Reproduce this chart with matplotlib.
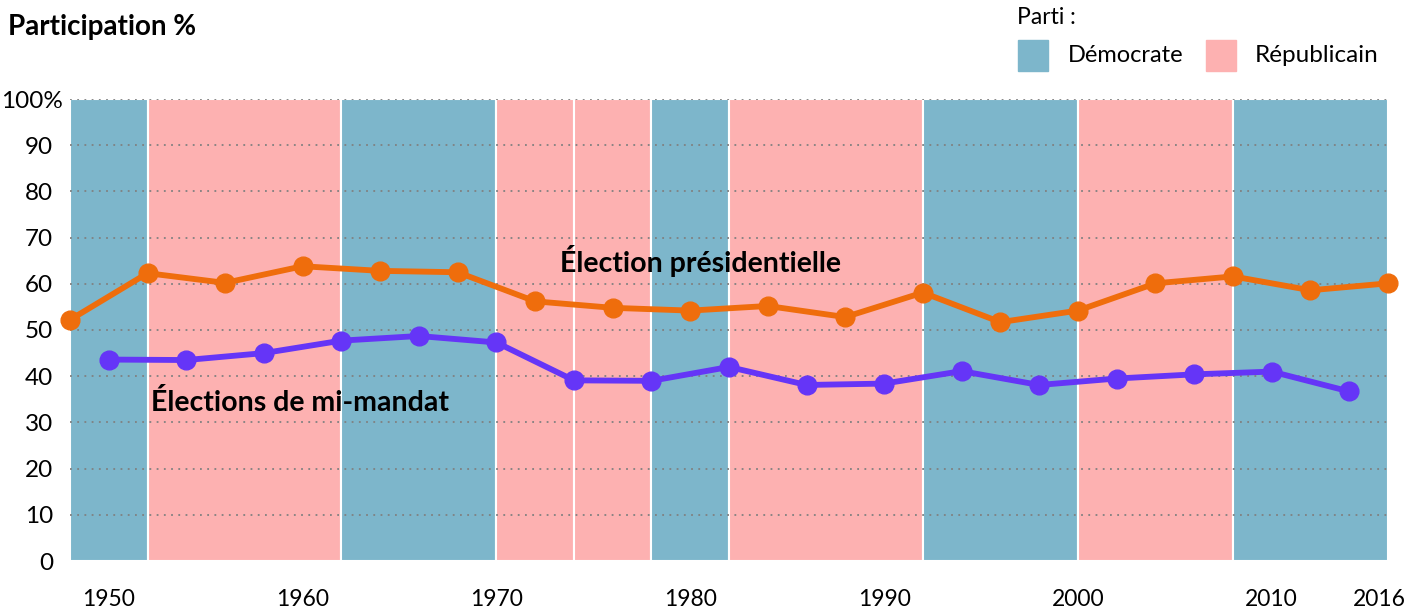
import matplotlib
matplotlib.use("Agg")
import matplotlib.pyplot as plt
import matplotlib.transforms as mtransforms
from matplotlib.patches import Rectangle

# presidential election turnout (%)
pres_years = [1948, 1952, 1956, 1960, 1964, 1968, 1972, 1976, 1980, 1984,
              1988, 1992, 1996, 2000, 2004, 2008, 2012, 2016]
pres_turnout = [52.2, 62.3, 60.2, 63.8, 62.8, 62.5, 56.2, 54.8, 54.2, 55.2,
                52.8, 58.1, 51.7, 54.2, 60.1, 61.6, 58.6, 60.1]

# midterm election turnout (%)
mid_years = [1950, 1954, 1958, 1962, 1966, 1970, 1974, 1978, 1982, 1986,
             1990, 1994, 1998, 2002, 2006, 2010, 2014]
mid_turnout = [43.6, 43.5, 45.0, 47.7, 48.7, 47.3, 39.1, 39.0, 42.0, 38.1,
               38.4, 41.1, 38.1, 39.5, 40.4, 41.0, 36.7]

# party in power (background bands)
band_start = [1948, 1952, 1962, 1970, 1974, 1978, 1982, 1992, 2000, 2008]
band_end = [1952, 1962, 1970, 1974, 1978, 1982, 1992, 2000, 2008, 2016]
band_party = ["D", "R", "D", "R", "R", "D", "R", "D", "R", "D"]

x_ticks = [1950, 1960, 1970, 1980, 1990, 2000, 2010, 2016]
y_ticks = [0, 10, 20, 30, 40, 50, 60, 70, 80, 90, 100]

BLUE = "#7db6cb"
PINK = "#fdb1b1"
ORANGE = "#ef6d0c"
PURPLE = "#6535f7"

plt.rcParams["font.family"] = ["Lato", "DejaVu Sans"]

W, H = 1412, 609
fig = plt.figure(figsize=(W / 100, H / 100), dpi=100)
ax = fig.add_axes([70 / W, (H - 561) / H, (1388 - 70) / W, (561 - 99) / H])

# background bands
for s, e, p in zip(band_start, band_end, band_party):
    ax.axvspan(s, e, color=BLUE if p == "D" else PINK, ec="white", lw=1.5, zorder=0)

# dotted gridlines
for y in y_ticks[1:]:
    ax.axhline(y, color="#808080", ls=(0, (1, 3)), lw=1.3, zorder=1)

ax.plot(pres_years, pres_turnout, color=ORANGE, lw=4.2, marker="o", ms=13.5,
        zorder=3, clip_on=False)
ax.plot(mid_years, mid_turnout, color=PURPLE, lw=4.2, marker="o", ms=13.5,
        zorder=3, clip_on=False)

ax.set_xlim(1948, 2016)
ax.set_ylim(0, 100)
for sp in ax.spines.values():
    sp.set_visible(False)

ax.set_xticks(x_ticks)
ax.set_xticklabels([str(x) for x in x_ticks])
ax.set_yticks(y_ticks)
ax.set_yticklabels([str(y) for y in y_ticks[:-1]] + ["100%"])
ax.tick_params(length=0, labelsize=17.5)
ax.tick_params(axis="x", pad=20, labelsize=16.5)
ax.tick_params(axis="y", pad=12)

# "100%" sticks out to the right of the other labels
lab = ax.get_yticklabels()[-1]
lab.set_transform(lab.get_transform() + mtransforms.ScaledTranslation(7 / 72, 0, fig.dpi_scale_trans))
# keep the last year inside the figure
lab = ax.get_xticklabels()[-1]
lab.set_transform(lab.get_transform() + mtransforms.ScaledTranslation(-6 / 72, 0, fig.dpi_scale_trans))

ax.text(1973.3, 65.0, "Élection présidentielle", fontsize=20.5, fontweight="bold",
        ha="left", va="center", zorder=4)
ax.text(1952.2, 34.4, "Élections de mi-mandat", fontsize=20.5, fontweight="bold",
        ha="left", va="center", zorder=4)

fig.text(8 / W, 1 - 27 / H, "Participation %", fontsize=20, fontweight="bold",
         ha="left", va="center")

# legend
fig.text(1017 / W, 1 - 17 / H, "Parti :", fontsize=16.5, ha="left", va="center")
fig.patches.append(Rectangle((1018 / W, 1 - 71 / H), 30 / W, 31 / H, color=BLUE,
                             transform=fig.transFigure, figure=fig))
fig.text(1068 / W, 1 - 55 / H, "Démocrate", fontsize=17, ha="left", va="center")
fig.patches.append(Rectangle((1206 / W, 1 - 71 / H), 30 / W, 31 / H, color=PINK,
                             transform=fig.transFigure, figure=fig))
fig.text(1255 / W, 1 - 55 / H, "Républicain", fontsize=17.5, ha="left", va="center")

fig.savefig("out.png", dpi=100)
